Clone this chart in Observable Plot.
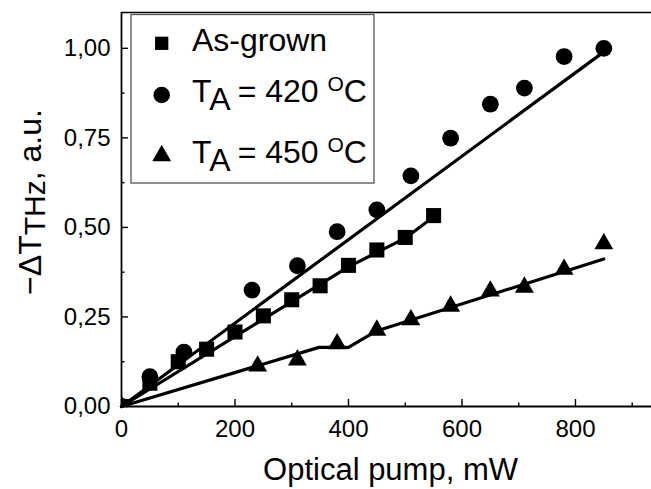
<!DOCTYPE html>
<html>
<head>
<meta charset="utf-8">
<script src="https://cdn.jsdelivr.net/npm/d3@7"></script>
<script src="https://cdn.jsdelivr.net/npm/@observablehq/plot@0.6"></script>
<style>
  html, body { margin: 0; padding: 0; background: #fff; }
  svg { display: block; }
</style>
</head>
<body>
<div id="chart"></div>
<script>
// ---- data ----
const asGrownX = [0, 50, 100, 150, 200, 250, 300, 350, 400, 450, 500, 550];
const asGrownY = [0, 0.065, 0.125, 0.160, 0.208, 0.253, 0.298, 0.337, 0.394, 0.437, 0.472, 0.533];
const t420X = [0, 50, 110, 230, 310, 380, 450, 510, 580, 650, 710, 780, 850];
const t420Y = [0, 0.083, 0.152, 0.325, 0.393, 0.488, 0.549, 0.644, 0.749, 0.844, 0.889, 0.977, 1.0];
const t450X = [0, 240, 310, 380, 450, 510, 580, 650, 710, 780, 850];
const t450Y = [0, 0.113, 0.130, 0.175, 0.213, 0.242, 0.280, 0.322, 0.333, 0.383, 0.454];

const fitAsX = [0, 400, 500, 550];
const fitAsY = [0, 0.390, 0.470, 0.530];
const fit420X = [0, 850];
const fit420Y = [0, 0.990];
const fit450X = [0, 348, 400, 448, 850];
const fit450Y = [0, 0.165, 0.165, 0.210, 0.412];

const xMajor = [0, 200, 400, 600, 800];
const xMinor = [100, 300, 500, 700, 900];
const yMajor = [0, 0.25, 0.5, 0.75, 1.0];
const yMinor = [0.125, 0.375, 0.625, 0.875];

const seriesNames = ["As-grown", "T_A = 420 °C", "T_A = 450 °C"];

const zip = (xs, ys) => xs.map((x, i) => ({x, y: ys[i]}));
const asGrown = zip(asGrownX, asGrownY);
const t420 = zip(t420X, t420Y);
const t450 = zip(t450X, t450Y);

const font = "'Liberation Sans', Arial, Helvetica, sans-serif";
const fmtY = d => d.toFixed(2).replace(".", ",");

const plot = Plot.plot({
  width: 651,
  height: 489,
  marginLeft: 121,
  marginRight: 0,
  marginTop: 12,
  marginBottom: 83,
  style: {fontFamily: font, background: "#fff", color: "#000"},
  x: {domain: [0, 934], label: null},
  y: {domain: [0, 1.1], label: null},
  marks: [
    // frame lines (top, left, bottom)
    Plot.ruleY([1.1], {stroke: "#000", strokeWidth: 1.6}),
    Plot.ruleX([0], {stroke: "#000", strokeWidth: 1.8}),
    Plot.ruleY([0], {stroke: "#000", strokeWidth: 1.8}),
    // inward ticks
    Plot.axisX({ticks: xMajor, tickSize: 7, dy: -7, tickFormat: () => "", strokeWidth: 1.4}),
    Plot.axisX({ticks: xMinor, tickSize: 3.5, dy: -3.5, tickFormat: () => "", strokeWidth: 1.4}),
    Plot.axisY({ticks: yMajor, tickSize: 7, dx: 7, tickFormat: () => "", strokeWidth: 1.4}),
    Plot.axisY({ticks: yMinor, tickSize: 3.5, dx: 3.5, tickFormat: () => "", strokeWidth: 1.4}),
    // tick labels
    Plot.axisX({ticks: xMajor, tickSize: 0, tickPadding: 13, fontSize: 24, tickFormat: d => String(d)}),
    Plot.axisY({ticks: yMajor, tickSize: 0, tickPadding: 11, fontSize: 24, tickFormat: fmtY}),
    // fitted lines
    Plot.line(zip(fit420X, fit420Y), {x: "x", y: "y", stroke: "#000", strokeWidth: 3.2}),
    Plot.line(zip(fitAsX, fitAsY), {x: "x", y: "y", stroke: "#000", strokeWidth: 3.2}),
    Plot.line(zip(fit450X, fit450Y), {x: "x", y: "y", stroke: "#000", strokeWidth: 3.2}),
    // points
    Plot.dot(asGrown, {x: "x", y: "y", symbol: "square", r: 8.5, fill: "#000", clip: true}),
    Plot.dot(t420, {x: "x", y: "y", symbol: "circle", r: 8.4, fill: "#000", clip: true}),
    Plot.dot(t450, {x: "x", y: "y", symbol: "triangle", r: 7.0, fill: "#000", clip: true}),
    // x axis title
    Plot.text(["Optical pump, mW"], {frameAnchor: "bottom", dy: 64, dx: 4, fontSize: 31, fill: "#000", lineAnchor: "middle"})
  ]
});

document.getElementById("chart").appendChild(plot);

const svg = d3.select(plot);

// y axis title with subscript
const yt = svg.append("text")
  .attr("transform", "translate(41,202) rotate(-90)")
  .attr("text-anchor", "middle")
  .attr("font-family", font)
  .attr("font-size", 32)
  .attr("fill", "#000");
yt.append("tspan").text("\u2212\u0394T");
yt.append("tspan").attr("dy", 4).attr("font-size", 30).text("THz");
yt.append("tspan").attr("dy", -4).text(", a.u.");

// legend
const lg = svg.append("g");
lg.append("rect")
  .attr("x", 131).attr("y", 14.5).attr("width", 243).attr("height", 168.5)
  .attr("fill", "#fff").attr("stroke", "#555").attr("stroke-width", 1.3);

const rows = [
  {sym: d3.symbolSquare, size: Math.PI * 7.5 * 7.5, cy: 43.3, base: 50.5},
  {sym: d3.symbolCircle, size: Math.PI * 8.3 * 8.3, cy: 95, base: 102},
  {sym: d3.symbolTriangle, size: Math.PI * 7.0 * 7.0, cy: 155.7, base: 163}
];
rows.forEach((r, i) => {
  lg.append("path")
    .attr("d", d3.symbol(r.sym, r.size)())
    .attr("transform", `translate(161.7,${r.cy})`)
    .attr("fill", "#000");
  const t = lg.append("text")
    .attr("x", 192).attr("y", r.base)
    .attr("text-anchor", "start")
    .attr("font-family", font).attr("font-size", 32).attr("fill", "#000");
  const name = seriesNames[i];
  if (name.startsWith("T_")) {
    const m = name.match(/^T_(\w) = (\d+) °C$/);
    t.append("tspan").text("T");
    t.append("tspan").attr("dy", 8).text(m[1]);
    t.append("tspan").attr("dy", -8).text(" = " + m[2] + " ");
    t.append("tspan").attr("dy", -11).attr("font-size", 21).text("O");
    t.append("tspan").attr("dy", 11).text("C");
  } else {
    t.text(name);
  }
});
</script>
</body>
</html>
